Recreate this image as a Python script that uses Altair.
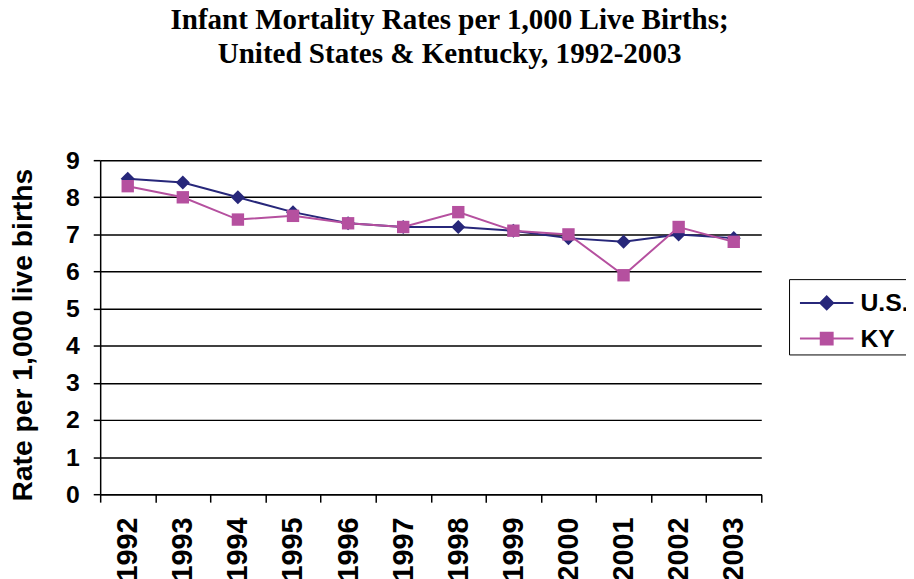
import altair as alt
import pandas as pd

years = [1992, 1993, 1994, 1995, 1996, 1997, 1998, 1999, 2000, 2001, 2002, 2003]
us_rates = [8.5, 8.4, 8.0, 7.6, 7.3, 7.2, 7.2, 7.1, 6.9, 6.8, 7.0, 6.9]
ky_rates = [8.3, 8.0, 7.4, 7.5, 7.3, 7.2, 7.6, 7.1, 7.0, 5.9, 7.2, 6.8]
series_names = ["U.S.", "KY"]
series_colors = ["#27277A", "#B5509F"]
series_shapes = ["diamond", "square"]
series_sizes = [200, 156]
y_ticks = [0, 1, 2, 3, 4, 5, 6, 7, 8, 9]

df = pd.DataFrame({
    "year": years * 2,
    "rate": us_rates + ky_rates,
    "series": [series_names[0]] * len(years) + [series_names[1]] * len(years),
})

x_bounds = [y - 0.5 for y in years] + [years[-1] + 0.5]

SANS = "Liberation Sans"
x_scale = alt.Scale(domain=[x_bounds[0], x_bounds[-1]], nice=False, zero=False)
y_scale = alt.Scale(domain=[0, 9], nice=False)

x_axis = alt.Axis(
    title=None,
    values=x_bounds,
    labelExpr="datum.value < %d ? format(datum.value + 0.5, 'd') : ''" % years[-1],
    labelOffset=27.8,
    labelAngle=-90,
    labelFont=SANS,
    labelFontSize=29,
    labelFontWeight="bold",
    labelColor="black",
    labelPadding=15,
    labelOverlap=False,
    labelFlush=False,
    labelBound=False,
    tickSize=8,
    tickColor="black",
    tickWidth=1.5,
    domainColor="black",
    domainWidth=1.5,
    grid=False,
)

y_axis = alt.Axis(
    title="Rate per 1,000 live births",
    titleFont=SANS,
    titleFontSize=28.5,
    titleFontWeight="bold",
    titleColor="black",
    titleX=-78,
    titleY=176,
    titleAngle=-90,
    titleAlign="center",
    titleBaseline="middle",
    values=y_ticks,
    labelFont=SANS,
    labelFontSize=25,
    labelFontWeight="bold",
    labelColor="black",
    labelPadding=14,
    labelOverlap=False,
    tickSize=7,
    tickColor="black",
    tickWidth=1.5,
    domainColor="black",
    domainWidth=1.5,
    grid=True,
    gridColor="black",
    gridWidth=1.5,
    gridOpacity=1,
)

x_enc = alt.X("year:Q", scale=x_scale, axis=x_axis)
y_enc = alt.Y("rate:Q", scale=y_scale, axis=y_axis)

color_scale = alt.Scale(domain=series_names, range=series_colors)

# legend glyphs: a line with the series marker on it
legend_paths = [
    "M-0.65,0H2.05M0.7,-0.325L1.025,0L0.7,0.325L0.375,0Z",
    "M-0.65,0H2.05M0.4,-0.3H1.0V0.3H0.4Z",
]

base = alt.Chart(df)


def series_layers(i):
    sub = base.transform_filter(alt.datum.series == series_names[i])
    line = sub.mark_line(strokeWidth=2, color=series_colors[i]).encode(x=x_enc, y=y_enc)
    pts = sub.mark_point(
        shape=series_shapes[i], filled=True, size=series_sizes[i], opacity=1, color=series_colors[i]
    ).encode(x=x_enc, y=y_enc)
    return [line, pts]


leg = alt.Legend(
    title=None,
    orient="none",
    legendX=695,
    legendY=120,
    strokeColor="black",
    padding=3,
    labelFont=SANS,
    labelFontSize=25,
    labelFontWeight="bold",
    labelColor="black",
    labelOffset=27,
    symbolSize=1600,
    symbolStrokeWidth=2,
    symbolOpacity=1,
    rowPadding=2,
)

# invisible layer that only carries the legend
legend_layer = base.mark_point(filled=True, opacity=0).encode(
    x=x_enc, y=y_enc,
    color=alt.Color("series:N", scale=color_scale, legend=leg),
    stroke=alt.Stroke("series:N", scale=color_scale, legend=leg),
    shape=alt.Shape("series:N", scale=alt.Scale(domain=series_names, range=legend_paths), legend=leg),
)

layers = series_layers(0) + series_layers(1) + [legend_layer]

chart = alt.layer(*layers).properties(
    width=667,
    height=337,
    padding={"left": 93, "top": 151, "right": 146, "bottom": 83},
    autosize=alt.AutoSizeParams(type="none"),
    title=alt.Title(
        ["Infant Mortality Rates per 1,000 Live Births;", "United States & Kentucky, 1992-2003"],
        font="Liberation Serif",
        fontSize=29.3,
        fontWeight="bold",
        color="black",
        lineHeight=34,
        anchor="middle",
        dx=19,
        offset=80,
    ),
).configure(background="white").configure_view(stroke=None)

chart.save("out.html", embed_options={"renderer": "svg", "actions": False})
